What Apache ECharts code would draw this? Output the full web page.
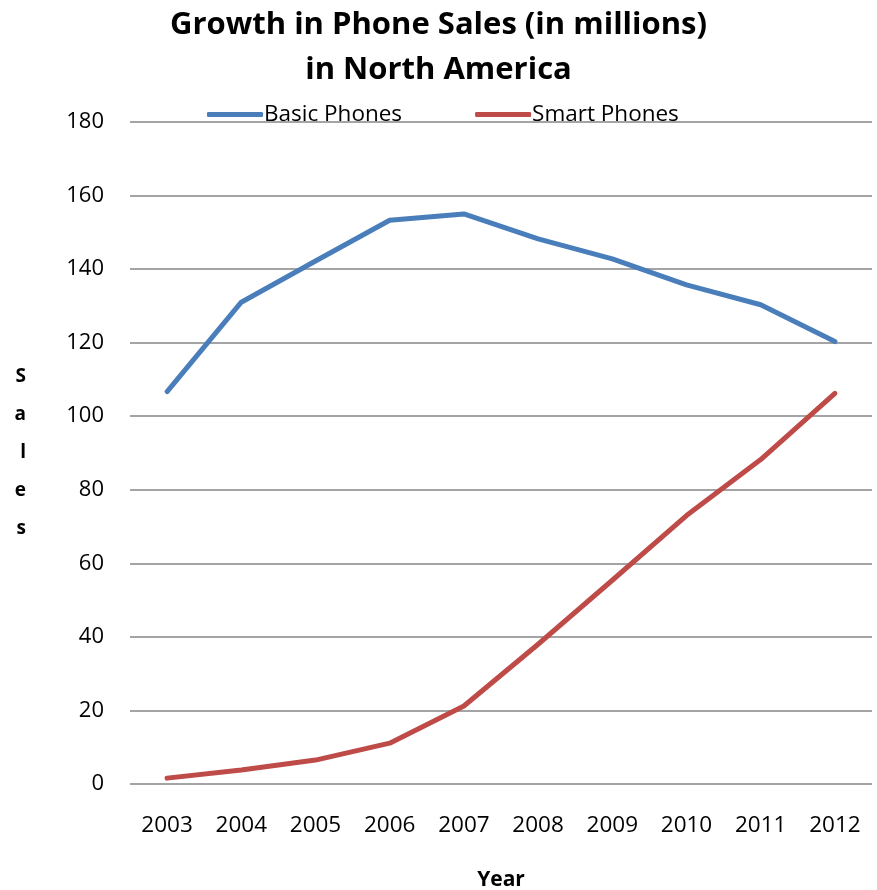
<!DOCTYPE html>
<html>
<head>
<meta charset="utf-8">
<script src="https://cdn.jsdelivr.net/npm/echarts@6/dist/echarts.min.js"></script>
<style>
  html, body { margin: 0; padding: 0; background: #fff; }
  #chart { width: 877px; height: 890px; }
</style>
</head>
<body>
<div id="chart"></div>
<script>
const years = ['2003', '2004', '2005', '2006', '2007', '2008', '2009', '2010', '2011', '2012']
const basicPhones = [106.7, 131, 142.2, 153.3, 155, 148.2, 142.8, 135.7, 130.3, 120.3]
const smartPhones = [1.6, 3.8, 6.5, 11.1, 21.2, 38, 55.4, 73, 88.2, 106.2]
const yTicks = [0, 20, 40, 60, 80, 100, 120, 140, 160, 180]

const chart = echarts.init(document.getElementById('chart'))
const font = '"Open Sans", Lato, sans-serif'

const option = {
  animation: false,
  title: {
    text: 'Growth in Phone Sales (in millions)\nin North America',
    left: 'center',
    top: -2,
    textStyle: { fontFamily: font, fontSize: 31, fontWeight: 'bold', color: '#000', lineHeight: 45 }
  },
  legend: {
    top: 103,
    left: 207,
    padding: 0,
    itemGap: 73,
    itemWidth: 56,
    itemHeight: 5,
    icon: 'roundRect',
    textStyle: { fontFamily: font, fontSize: 22.5, color: '#000', padding: [0, 0, 0, -4] },
    data: ['Basic Phones', 'Smart Phones']
  },
  grid: { left: 130, right: 5, top: 122, bottom: 106, outerBoundsMode: 'none' },
  xAxis: {
    type: 'category',
    data: years,
    name: 'Year',
    nameLocation: 'middle',
    nameGap: 86,
    nameTextStyle: { fontFamily: font, fontSize: 21, fontWeight: 'bold', color: '#000' },
    axisLine: { show: false },
    axisTick: { show: false },
    axisLabel: { fontFamily: font, fontSize: 22.5, color: '#000', margin: 30 }
  },
  yAxis: {
    type: 'value',
    min: yTicks[0],
    max: yTicks[yTicks.length - 1],
    interval: yTicks[1] - yTicks[0],
    name: 'S\na\nl\ne\ns',
    nameLocation: 'middle',
    nameRotate: 0,
    nameGap: 104,
    nameTextStyle: { fontFamily: font, fontSize: 19, fontWeight: 'bold', color: '#000', lineHeight: 38, padding: [16, 0, 0, 0] },
    axisLine: { show: false },
    axisTick: { show: false },
    axisLabel: { fontFamily: font, fontSize: 22, color: '#000', margin: 26 },
    splitLine: { lineStyle: { color: '#868686', width: 1.5 } }
  },
  series: [
    {
      name: 'Basic Phones',
      type: 'line',
      data: basicPhones,
      symbol: 'none',
      itemStyle: { color: '#4a7ebb' },
      lineStyle: { color: '#4a7ebb', width: 5, cap: 'round', join: 'round' }
    },
    {
      name: 'Smart Phones',
      type: 'line',
      data: smartPhones,
      symbol: 'none',
      itemStyle: { color: '#be4b48' },
      lineStyle: { color: '#be4b48', width: 5, cap: 'round', join: 'round' }
    }
  ]
}

chart.setOption(option)
window.addEventListener('resize', () => chart.resize())
</script>
</body>
</html>
